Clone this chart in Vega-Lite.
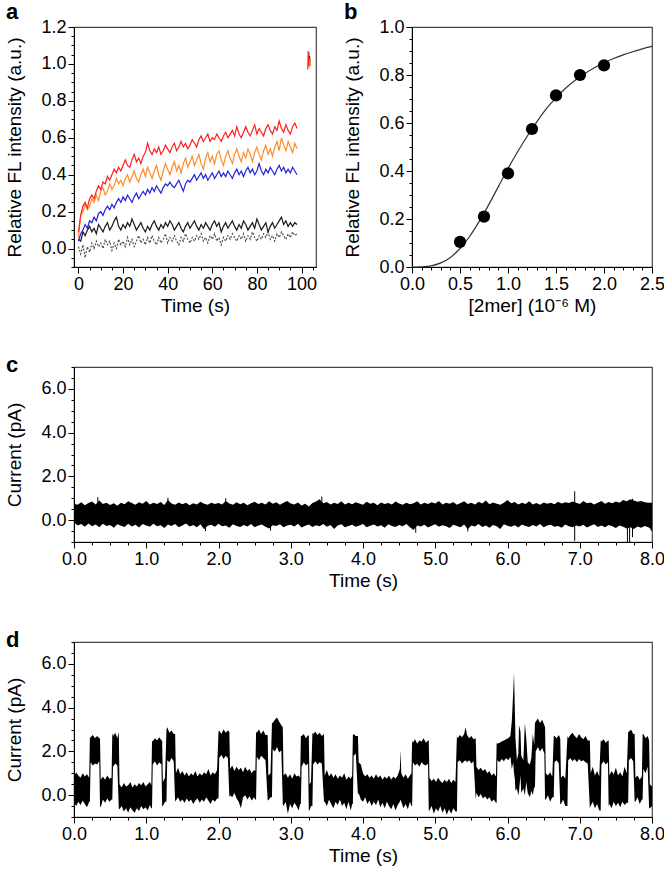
{
"$schema": "https://vega.github.io/schema/vega-lite/v6.json",
"padding": {"left": 5, "right": 5, "top": 0, "bottom": 5},
"config": {
  "font": "Liberation Sans",
  "view": {"stroke": "#444", "strokeWidth": 1.2},
  "axis": {"labelFont": "Liberation Sans", "labelFontSize": 18, "titleFont": "Liberation Sans", "titleFontSize": 19, "titleFontWeight": "normal", "labelColor": "#000", "titleColor": "#000", "domainColor": "#000", "tickColor": "#000", "grid": false, "labelPadding": 2, "tickWidth": 1, "domainWidth": 1, "labelOverlap": false, "labelFlush": false},
  "axisX": {"titlePadding": 3},
  "axisY": {"titlePadding": 16},
  "title": {"fontSize": 22, "fontWeight": "bold", "anchor": "start", "frame": "bounds", "offset": -6, "color": "#000"}
},
"datasets": {
"red": [{"t":0,"v":0.09},{"t":1,"v":0.18},{"t":2,"v":0.23},{"t":3,"v":0.25},{"t":4,"v":0.22},{"t":5,"v":0.27},{"t":6,"v":0.29},{"t":7,"v":0.27},{"t":8,"v":0.31},{"t":9,"v":0.34},{"t":10,"v":0.32},{"t":11,"v":0.36},{"t":12,"v":0.35},{"t":13,"v":0.39},{"t":14,"v":0.37},{"t":15,"v":0.4},{"t":16,"v":0.43},{"t":17,"v":0.41},{"t":18,"v":0.44},{"t":19,"v":0.42},{"t":20,"v":0.45},{"t":21,"v":0.48},{"t":22,"v":0.45},{"t":23,"v":0.44},{"t":24,"v":0.48},{"t":25,"v":0.51},{"t":26,"v":0.47},{"t":27,"v":0.49},{"t":28,"v":0.46},{"t":29,"v":0.5},{"t":30,"v":0.52},{"t":31,"v":0.57},{"t":32,"v":0.53},{"t":33,"v":0.51},{"t":34,"v":0.54},{"t":35,"v":0.52},{"t":36,"v":0.55},{"t":37,"v":0.51},{"t":38,"v":0.53},{"t":39,"v":0.56},{"t":40,"v":0.54},{"t":41,"v":0.52},{"t":42,"v":0.55},{"t":43,"v":0.57},{"t":44,"v":0.53},{"t":45,"v":0.55},{"t":46,"v":0.58},{"t":47,"v":0.55},{"t":48,"v":0.57},{"t":49,"v":0.54},{"t":50,"v":0.56},{"t":51,"v":0.59},{"t":52,"v":0.57},{"t":53,"v":0.55},{"t":54,"v":0.59},{"t":55,"v":0.61},{"t":56,"v":0.58},{"t":57,"v":0.6},{"t":58,"v":0.62},{"t":59,"v":0.58},{"t":60,"v":0.6},{"t":61,"v":0.59},{"t":62,"v":0.62},{"t":63,"v":0.6},{"t":64,"v":0.58},{"t":65,"v":0.61},{"t":66,"v":0.63},{"t":67,"v":0.6},{"t":68,"v":0.62},{"t":69,"v":0.64},{"t":70,"v":0.61},{"t":71,"v":0.66},{"t":72,"v":0.62},{"t":73,"v":0.6},{"t":74,"v":0.63},{"t":75,"v":0.66},{"t":76,"v":0.63},{"t":77,"v":0.61},{"t":78,"v":0.64},{"t":79,"v":0.67},{"t":80,"v":0.62},{"t":81,"v":0.65},{"t":82,"v":0.63},{"t":83,"v":0.61},{"t":84,"v":0.65},{"t":85,"v":0.67},{"t":86,"v":0.64},{"t":87,"v":0.62},{"t":88,"v":0.66},{"t":89,"v":0.64},{"t":90,"v":0.69},{"t":91,"v":0.65},{"t":92,"v":0.63},{"t":93,"v":0.67},{"t":94,"v":0.64},{"t":95,"v":0.62},{"t":96,"v":0.66},{"t":97,"v":0.68},{"t":98,"v":0.65},{"t":102.8,"v":0.97,"g":1},{"t":103.0,"v":1.07,"g":1},{"t":103.2,"v":0.99,"g":1}],
"orange": [{"t":0,"v":0.06},{"t":1,"v":0.18},{"t":2,"v":0.2},{"t":3,"v":0.24},{"t":4,"v":0.21},{"t":5,"v":0.23},{"t":6,"v":0.27},{"t":7,"v":0.25},{"t":8,"v":0.29},{"t":9,"v":0.26},{"t":10,"v":0.31},{"t":11,"v":0.33},{"t":12,"v":0.29},{"t":13,"v":0.31},{"t":14,"v":0.35},{"t":15,"v":0.32},{"t":16,"v":0.34},{"t":17,"v":0.38},{"t":18,"v":0.35},{"t":19,"v":0.37},{"t":20,"v":0.34},{"t":21,"v":0.38},{"t":22,"v":0.4},{"t":23,"v":0.36},{"t":24,"v":0.39},{"t":25,"v":0.42},{"t":26,"v":0.38},{"t":27,"v":0.36},{"t":28,"v":0.4},{"t":29,"v":0.43},{"t":30,"v":0.39},{"t":31,"v":0.44},{"t":32,"v":0.41},{"t":33,"v":0.38},{"t":34,"v":0.42},{"t":35,"v":0.45},{"t":36,"v":0.4},{"t":37,"v":0.37},{"t":38,"v":0.42},{"t":39,"v":0.46},{"t":40,"v":0.43},{"t":41,"v":0.4},{"t":42,"v":0.44},{"t":43,"v":0.47},{"t":44,"v":0.42},{"t":45,"v":0.45},{"t":46,"v":0.41},{"t":47,"v":0.46},{"t":48,"v":0.49},{"t":49,"v":0.44},{"t":50,"v":0.47},{"t":51,"v":0.5},{"t":52,"v":0.45},{"t":53,"v":0.48},{"t":54,"v":0.51},{"t":55,"v":0.46},{"t":56,"v":0.43},{"t":57,"v":0.49},{"t":58,"v":0.52},{"t":59,"v":0.47},{"t":60,"v":0.5},{"t":61,"v":0.46},{"t":62,"v":0.51},{"t":63,"v":0.53},{"t":64,"v":0.48},{"t":65,"v":0.45},{"t":66,"v":0.5},{"t":67,"v":0.53},{"t":68,"v":0.49},{"t":69,"v":0.46},{"t":70,"v":0.51},{"t":71,"v":0.54},{"t":72,"v":0.5},{"t":73,"v":0.47},{"t":74,"v":0.52},{"t":75,"v":0.49},{"t":76,"v":0.54},{"t":77,"v":0.51},{"t":78,"v":0.47},{"t":79,"v":0.52},{"t":80,"v":0.55},{"t":81,"v":0.51},{"t":82,"v":0.48},{"t":83,"v":0.53},{"t":84,"v":0.56},{"t":85,"v":0.51},{"t":86,"v":0.54},{"t":87,"v":0.5},{"t":88,"v":0.55},{"t":89,"v":0.58},{"t":90,"v":0.53},{"t":91,"v":0.6},{"t":92,"v":0.56},{"t":93,"v":0.53},{"t":94,"v":0.58},{"t":95,"v":0.55},{"t":96,"v":0.52},{"t":97,"v":0.57},{"t":98,"v":0.54},{"t":103.5,"v":0.98,"g":1},{"t":103.8,"v":1.03,"g":1},{"t":104.1,"v":0.99,"g":1}],
"blue": [{"t":0,"v":0.04},{"t":1,"v":0.08},{"t":2,"v":0.1},{"t":3,"v":0.13},{"t":4,"v":0.11},{"t":5,"v":0.15},{"t":6,"v":0.14},{"t":7,"v":0.17},{"t":8,"v":0.15},{"t":9,"v":0.19},{"t":10,"v":0.2},{"t":11,"v":0.18},{"t":12,"v":0.21},{"t":13,"v":0.23},{"t":14,"v":0.21},{"t":15,"v":0.24},{"t":16,"v":0.22},{"t":17,"v":0.25},{"t":18,"v":0.27},{"t":19,"v":0.25},{"t":20,"v":0.28},{"t":21,"v":0.26},{"t":22,"v":0.29},{"t":23,"v":0.27},{"t":24,"v":0.25},{"t":25,"v":0.28},{"t":26,"v":0.3},{"t":27,"v":0.27},{"t":28,"v":0.29},{"t":29,"v":0.31},{"t":30,"v":0.29},{"t":31,"v":0.32},{"t":32,"v":0.3},{"t":33,"v":0.33},{"t":34,"v":0.31},{"t":35,"v":0.34},{"t":36,"v":0.32},{"t":37,"v":0.3},{"t":38,"v":0.33},{"t":39,"v":0.35},{"t":40,"v":0.34},{"t":41,"v":0.36},{"t":42,"v":0.34},{"t":43,"v":0.33},{"t":44,"v":0.35},{"t":45,"v":0.37},{"t":46,"v":0.34},{"t":47,"v":0.31},{"t":48,"v":0.35},{"t":49,"v":0.37},{"t":50,"v":0.36},{"t":51,"v":0.38},{"t":52,"v":0.4},{"t":53,"v":0.37},{"t":54,"v":0.39},{"t":55,"v":0.41},{"t":56,"v":0.38},{"t":57,"v":0.4},{"t":58,"v":0.37},{"t":59,"v":0.39},{"t":60,"v":0.41},{"t":61,"v":0.38},{"t":62,"v":0.4},{"t":63,"v":0.42},{"t":64,"v":0.39},{"t":65,"v":0.41},{"t":66,"v":0.39},{"t":67,"v":0.42},{"t":68,"v":0.4},{"t":69,"v":0.38},{"t":70,"v":0.41},{"t":71,"v":0.43},{"t":72,"v":0.4},{"t":73,"v":0.42},{"t":74,"v":0.39},{"t":75,"v":0.42},{"t":76,"v":0.44},{"t":77,"v":0.41},{"t":78,"v":0.43},{"t":79,"v":0.4},{"t":80,"v":0.42},{"t":81,"v":0.46},{"t":82,"v":0.42},{"t":83,"v":0.4},{"t":84,"v":0.43},{"t":85,"v":0.41},{"t":86,"v":0.44},{"t":87,"v":0.42},{"t":88,"v":0.4},{"t":89,"v":0.43},{"t":90,"v":0.45},{"t":91,"v":0.42},{"t":92,"v":0.44},{"t":93,"v":0.41},{"t":94,"v":0.43},{"t":95,"v":0.41},{"t":96,"v":0.44},{"t":97,"v":0.42},{"t":98,"v":0.4},{"t":103.3,"v":1.0,"g":1},{"t":103.6,"v":1.045,"g":1},{"t":103.9,"v":1.01,"g":1}],
"black": [{"t":0,"v":0.05},{"t":1,"v":0.04},{"t":2,"v":0.09},{"t":3,"v":0.07},{"t":4,"v":0.1},{"t":5,"v":0.12},{"t":6,"v":0.09},{"t":7,"v":0.11},{"t":8,"v":0.08},{"t":9,"v":0.13},{"t":10,"v":0.11},{"t":11,"v":0.09},{"t":12,"v":0.12},{"t":13,"v":0.14},{"t":14,"v":0.1},{"t":15,"v":0.12},{"t":16,"v":0.15},{"t":17,"v":0.17},{"t":18,"v":0.12},{"t":19,"v":0.1},{"t":20,"v":0.13},{"t":21,"v":0.11},{"t":22,"v":0.14},{"t":23,"v":0.12},{"t":24,"v":0.16},{"t":25,"v":0.13},{"t":26,"v":0.1},{"t":27,"v":0.12},{"t":28,"v":0.14},{"t":29,"v":0.11},{"t":30,"v":0.09},{"t":31,"v":0.12},{"t":32,"v":0.1},{"t":33,"v":0.13},{"t":34,"v":0.15},{"t":35,"v":0.12},{"t":36,"v":0.1},{"t":37,"v":0.13},{"t":38,"v":0.11},{"t":39,"v":0.14},{"t":40,"v":0.12},{"t":41,"v":0.15},{"t":42,"v":0.13},{"t":43,"v":0.1},{"t":44,"v":0.12},{"t":45,"v":0.14},{"t":46,"v":0.11},{"t":47,"v":0.09},{"t":48,"v":0.12},{"t":49,"v":0.14},{"t":50,"v":0.11},{"t":51,"v":0.13},{"t":52,"v":0.15},{"t":53,"v":0.12},{"t":54,"v":0.1},{"t":55,"v":0.13},{"t":56,"v":0.11},{"t":57,"v":0.14},{"t":58,"v":0.12},{"t":59,"v":0.1},{"t":60,"v":0.13},{"t":61,"v":0.15},{"t":62,"v":0.12},{"t":63,"v":0.14},{"t":64,"v":0.09},{"t":65,"v":0.12},{"t":66,"v":0.14},{"t":67,"v":0.11},{"t":68,"v":0.13},{"t":69,"v":0.15},{"t":70,"v":0.12},{"t":71,"v":0.1},{"t":72,"v":0.13},{"t":73,"v":0.11},{"t":74,"v":0.15},{"t":75,"v":0.13},{"t":76,"v":0.1},{"t":77,"v":0.12},{"t":78,"v":0.14},{"t":79,"v":0.11},{"t":80,"v":0.16},{"t":81,"v":0.13},{"t":82,"v":0.1},{"t":83,"v":0.12},{"t":84,"v":0.14},{"t":85,"v":0.09},{"t":86,"v":0.12},{"t":87,"v":0.14},{"t":88,"v":0.11},{"t":89,"v":0.13},{"t":90,"v":0.15},{"t":91,"v":0.17},{"t":92,"v":0.13},{"t":93,"v":0.15},{"t":94,"v":0.12},{"t":95,"v":0.14},{"t":96,"v":0.12},{"t":97,"v":0.14},{"t":98,"v":0.13},{"t":103.0,"v":1.0,"g":1},{"t":104.2,"v":1.0,"g":1}],
"gray": [{"t":0,"v":0.01},{"t":1,"v":-0.03},{"t":2,"v":0.02},{"t":3,"v":-0.05},{"t":4,"v":0.01},{"t":5,"v":-0.02},{"t":6,"v":0.03},{"t":7,"v":0.0},{"t":8,"v":0.04},{"t":9,"v":0.01},{"t":10,"v":0.03},{"t":11,"v":0.0},{"t":12,"v":0.05},{"t":13,"v":0.02},{"t":14,"v":0.04},{"t":15,"v":-0.01},{"t":16,"v":0.03},{"t":17,"v":0.0},{"t":18,"v":0.05},{"t":19,"v":0.02},{"t":20,"v":0.04},{"t":21,"v":0.01},{"t":22,"v":0.06},{"t":23,"v":0.02},{"t":24,"v":0.05},{"t":25,"v":0.01},{"t":26,"v":0.04},{"t":27,"v":0.07},{"t":28,"v":0.03},{"t":29,"v":0.05},{"t":30,"v":0.02},{"t":31,"v":0.06},{"t":32,"v":0.03},{"t":33,"v":0.07},{"t":34,"v":0.04},{"t":35,"v":0.02},{"t":36,"v":0.06},{"t":37,"v":0.03},{"t":38,"v":0.05},{"t":39,"v":0.08},{"t":40,"v":0.03},{"t":41,"v":0.06},{"t":42,"v":0.04},{"t":43,"v":0.07},{"t":44,"v":0.04},{"t":45,"v":0.02},{"t":46,"v":0.06},{"t":47,"v":0.04},{"t":48,"v":0.08},{"t":49,"v":0.05},{"t":50,"v":0.03},{"t":51,"v":0.06},{"t":52,"v":0.04},{"t":53,"v":0.07},{"t":54,"v":0.05},{"t":55,"v":0.08},{"t":56,"v":0.04},{"t":57,"v":0.06},{"t":58,"v":0.03},{"t":59,"v":0.07},{"t":60,"v":0.05},{"t":61,"v":0.08},{"t":62,"v":0.04},{"t":63,"v":0.06},{"t":64,"v":0.02},{"t":65,"v":0.06},{"t":66,"v":0.04},{"t":67,"v":0.07},{"t":68,"v":0.05},{"t":69,"v":0.08},{"t":70,"v":0.06},{"t":71,"v":0.04},{"t":72,"v":0.07},{"t":73,"v":0.05},{"t":74,"v":0.08},{"t":75,"v":0.04},{"t":76,"v":0.07},{"t":77,"v":0.05},{"t":78,"v":0.09},{"t":79,"v":0.06},{"t":80,"v":0.04},{"t":81,"v":0.07},{"t":82,"v":0.05},{"t":83,"v":0.08},{"t":84,"v":0.06},{"t":85,"v":0.09},{"t":86,"v":0.05},{"t":87,"v":0.07},{"t":88,"v":0.04},{"t":89,"v":0.08},{"t":90,"v":0.06},{"t":91,"v":0.09},{"t":92,"v":0.07},{"t":93,"v":0.05},{"t":94,"v":0.08},{"t":95,"v":0.06},{"t":96,"v":0.09},{"t":97,"v":0.07},{"t":98,"v":0.08},{"t":103.4,"v":1.06,"g":1},{"t":103.7,"v":0.99,"g":1},{"t":104.0,"v":1.03,"g":1}],
"fit": [{"x":0,"y":0},{"x":0.1,"y":0.001},{"x":0.2,"y":0.005},{"x":0.3,"y":0.017},{"x":0.4,"y":0.04},{"x":0.5,"y":0.077},{"x":0.6,"y":0.127},{"x":0.7,"y":0.19},{"x":0.8,"y":0.26},{"x":0.9,"y":0.335},{"x":1.0,"y":0.41},{"x":1.1,"y":0.48},{"x":1.2,"y":0.545},{"x":1.3,"y":0.605},{"x":1.4,"y":0.66},{"x":1.5,"y":0.705},{"x":1.6,"y":0.745},{"x":1.7,"y":0.778},{"x":1.8,"y":0.806},{"x":1.9,"y":0.83},{"x":2.0,"y":0.851},{"x":2.1,"y":0.869},{"x":2.2,"y":0.884},{"x":2.3,"y":0.897},{"x":2.4,"y":0.909},{"x":2.5,"y":0.919}],
"pts": [{"x":0.5,"y":0.105},{"x":0.75,"y":0.21},{"x":1.0,"y":0.39},{"x":1.25,"y":0.575},{"x":1.5,"y":0.715},{"x":1.75,"y":0.8},{"x":2.0,"y":0.84}],
"cband": [{"t":0,"lo":-0.1,"hi":0.75},{"t":0.05,"lo":-0.25,"hi":0.7},{"t":0.1,"lo":-0.18,"hi":0.82},{"t":0.15,"lo":-0.3,"hi":0.68},{"t":0.2,"lo":-0.15,"hi":0.78},{"t":0.25,"lo":-0.28,"hi":0.85},{"t":0.3,"lo":-0.2,"hi":0.72},{"t":0.35,"lo":-0.33,"hi":0.9},{"t":0.4,"lo":-0.16,"hi":0.74},{"t":0.45,"lo":-0.27,"hi":0.8},{"t":0.5,"lo":-0.22,"hi":0.69},{"t":0.55,"lo":-0.35,"hi":0.77},{"t":0.6,"lo":-0.19,"hi":0.66},{"t":0.65,"lo":-0.26,"hi":0.79},{"t":0.7,"lo":-0.31,"hi":0.73},{"t":0.75,"lo":-0.17,"hi":0.86},{"t":0.8,"lo":-0.29,"hi":0.78},{"t":0.85,"lo":-0.21,"hi":0.7},{"t":0.9,"lo":-0.34,"hi":0.82},{"t":0.95,"lo":-0.18,"hi":0.75},{"t":1.0,"lo":-0.25,"hi":0.88},{"t":1.05,"lo":-0.3,"hi":0.71},{"t":1.1,"lo":-0.16,"hi":0.8},{"t":1.15,"lo":-0.28,"hi":0.74},{"t":1.2,"lo":-0.23,"hi":0.83},{"t":1.25,"lo":-0.36,"hi":0.69},{"t":1.3,"lo":-0.2,"hi":0.92},{"t":1.35,"lo":-0.27,"hi":0.76},{"t":1.4,"lo":-0.18,"hi":0.7},{"t":1.45,"lo":-0.32,"hi":0.81},{"t":1.5,"lo":-0.24,"hi":0.73},{"t":1.55,"lo":-0.15,"hi":0.79},{"t":1.6,"lo":-0.29,"hi":0.68},{"t":1.65,"lo":-0.22,"hi":0.77},{"t":1.7,"lo":-0.33,"hi":0.72},{"t":1.75,"lo":-0.19,"hi":0.84},{"t":1.8,"lo":-0.42,"hi":0.75},{"t":1.85,"lo":-0.26,"hi":0.7},{"t":1.9,"lo":-0.21,"hi":0.8},{"t":1.95,"lo":-0.3,"hi":0.74},{"t":2.0,"lo":-0.17,"hi":0.78},{"t":2.05,"lo":-0.28,"hi":0.72},{"t":2.1,"lo":-0.24,"hi":0.87},{"t":2.15,"lo":-0.35,"hi":0.76},{"t":2.2,"lo":-0.19,"hi":0.7},{"t":2.25,"lo":-0.27,"hi":0.82},{"t":2.3,"lo":-0.31,"hi":0.73},{"t":2.35,"lo":-0.22,"hi":0.79},{"t":2.4,"lo":-0.29,"hi":0.68},{"t":2.45,"lo":-0.18,"hi":0.77},{"t":2.5,"lo":-0.33,"hi":0.84},{"t":2.55,"lo":-0.25,"hi":0.74},{"t":2.6,"lo":-0.2,"hi":0.8},{"t":2.65,"lo":-0.3,"hi":0.71},{"t":2.7,"lo":-0.38,"hi":0.86},{"t":2.75,"lo":-0.23,"hi":0.75},{"t":2.8,"lo":-0.27,"hi":0.82},{"t":2.85,"lo":-0.19,"hi":0.7},{"t":2.9,"lo":-0.32,"hi":0.79},{"t":2.95,"lo":-0.24,"hi":0.88},{"t":3.0,"lo":-0.21,"hi":0.76},{"t":3.05,"lo":-0.29,"hi":0.72},{"t":3.1,"lo":-0.17,"hi":0.81},{"t":3.15,"lo":-0.34,"hi":0.67},{"t":3.2,"lo":-0.26,"hi":0.75},{"t":3.25,"lo":-0.2,"hi":0.62},{"t":3.3,"lo":-0.31,"hi":0.78},{"t":3.35,"lo":-0.23,"hi":0.85},{"t":3.4,"lo":-0.28,"hi":0.95},{"t":3.45,"lo":-0.18,"hi":0.77},{"t":3.5,"lo":-0.3,"hi":0.83},{"t":3.55,"lo":-0.22,"hi":0.72},{"t":3.6,"lo":-0.4,"hi":0.8},{"t":3.65,"lo":-0.25,"hi":0.74},{"t":3.7,"lo":-0.19,"hi":0.86},{"t":3.75,"lo":-0.33,"hi":0.71},{"t":3.8,"lo":-0.27,"hi":0.79},{"t":3.85,"lo":-0.21,"hi":0.73},{"t":3.9,"lo":-0.3,"hi":0.82},{"t":3.95,"lo":-0.24,"hi":0.76},{"t":4.0,"lo":-0.18,"hi":0.7},{"t":4.05,"lo":-0.32,"hi":0.84},{"t":4.1,"lo":-0.26,"hi":0.75},{"t":4.15,"lo":-0.2,"hi":0.79},{"t":4.2,"lo":-0.29,"hi":0.68},{"t":4.25,"lo":-0.23,"hi":0.81},{"t":4.3,"lo":-0.35,"hi":0.74},{"t":4.35,"lo":-0.19,"hi":0.78},{"t":4.4,"lo":-0.27,"hi":0.72},{"t":4.45,"lo":-0.31,"hi":0.85},{"t":4.5,"lo":-0.22,"hi":0.76},{"t":4.55,"lo":-0.28,"hi":0.7},{"t":4.6,"lo":-0.18,"hi":0.8},{"t":4.65,"lo":-0.33,"hi":0.73},{"t":4.7,"lo":-0.45,"hi":0.77},{"t":4.75,"lo":-0.24,"hi":0.86},{"t":4.8,"lo":-0.29,"hi":0.71},{"t":4.85,"lo":-0.21,"hi":0.79},{"t":4.9,"lo":-0.34,"hi":0.74},{"t":4.95,"lo":-0.26,"hi":0.82},{"t":5.0,"lo":-0.19,"hi":0.76},{"t":5.05,"lo":-0.3,"hi":0.88},{"t":5.1,"lo":-0.23,"hi":0.72},{"t":5.15,"lo":-0.28,"hi":0.8},{"t":5.2,"lo":-0.36,"hi":0.75},{"t":5.25,"lo":-0.21,"hi":0.83},{"t":5.3,"lo":-0.27,"hi":0.7},{"t":5.35,"lo":-0.32,"hi":0.78},{"t":5.4,"lo":-0.2,"hi":0.86},{"t":5.45,"lo":-0.42,"hi":0.74},{"t":5.5,"lo":-0.25,"hi":0.79},{"t":5.55,"lo":-0.29,"hi":0.72},{"t":5.6,"lo":-0.18,"hi":0.84},{"t":5.65,"lo":-0.31,"hi":0.76},{"t":5.7,"lo":-0.24,"hi":0.9},{"t":5.75,"lo":-0.35,"hi":0.73},{"t":5.8,"lo":-0.22,"hi":0.81},{"t":5.85,"lo":-0.28,"hi":0.75},{"t":5.9,"lo":-0.4,"hi":0.7},{"t":5.95,"lo":-0.19,"hi":0.79},{"t":6.0,"lo":-0.26,"hi":0.92},{"t":6.05,"lo":-0.3,"hi":0.77},{"t":6.1,"lo":-0.23,"hi":0.83},{"t":6.15,"lo":-0.34,"hi":0.71},{"t":6.2,"lo":-0.2,"hi":0.8},{"t":6.25,"lo":-0.27,"hi":0.74},{"t":6.3,"lo":-0.31,"hi":0.86},{"t":6.35,"lo":-0.22,"hi":0.72},{"t":6.4,"lo":-0.29,"hi":0.78},{"t":6.45,"lo":-0.18,"hi":0.7},{"t":6.5,"lo":-0.33,"hi":0.81},{"t":6.55,"lo":-0.25,"hi":0.75},{"t":6.6,"lo":-0.21,"hi":0.79},{"t":6.65,"lo":-0.3,"hi":0.73},{"t":6.7,"lo":-0.27,"hi":0.84},{"t":6.75,"lo":-0.35,"hi":0.76},{"t":6.8,"lo":-0.2,"hi":0.82},{"t":6.85,"lo":-0.28,"hi":0.78},{"t":6.9,"lo":-0.32,"hi":0.85},{"t":6.95,"lo":-0.24,"hi":0.8},{"t":7.0,"lo":-0.29,"hi":0.74},{"t":7.05,"lo":-0.21,"hi":0.87},{"t":7.1,"lo":-0.34,"hi":0.77},{"t":7.15,"lo":-0.26,"hi":0.81},{"t":7.2,"lo":-0.19,"hi":0.72},{"t":7.25,"lo":-0.31,"hi":0.79},{"t":7.3,"lo":-0.25,"hi":0.88},{"t":7.35,"lo":-0.33,"hi":0.75},{"t":7.4,"lo":-0.22,"hi":0.83},{"t":7.45,"lo":-0.28,"hi":0.77},{"t":7.5,"lo":-0.36,"hi":0.85},{"t":7.55,"lo":-0.24,"hi":0.8},{"t":7.6,"lo":-0.3,"hi":0.92},{"t":7.65,"lo":-0.38,"hi":0.86},{"t":7.7,"lo":-0.33,"hi":0.95},{"t":7.75,"lo":-0.4,"hi":0.9},{"t":7.8,"lo":-0.29,"hi":0.84},{"t":7.85,"lo":-0.35,"hi":0.88},{"t":7.9,"lo":-0.27,"hi":0.82},{"t":7.95,"lo":-0.32,"hi":0.79},{"t":8.0,"lo":-0.45,"hi":0.8}],
"cspike": [{"t":0.33,"lo":0,"hi":1.05},{"t":1.3,"lo":0,"hi":1.02},{"t":1.82,"lo":-0.5,"hi":0.3},{"t":2.1,"lo":0,"hi":1.0},{"t":2.72,"lo":-0.48,"hi":0.3},{"t":3.43,"lo":0,"hi":1.08},{"t":4.73,"lo":-0.58,"hi":0.3},{"t":5.45,"lo":-0.52,"hi":0.3},{"t":6.93,"lo":-0.95,"hi":1.32},{"t":7.66,"lo":-1.0,"hi":0.5},{"t":7.69,"lo":-1.0,"hi":0.5},{"t":7.73,"lo":-0.78,"hi":0.98},{"t":7.99,"lo":-0.5,"hi":0.5}],
"dband": [{"t":0,"lo":-0.35,"hi":0.85},{"t":0.03,"lo":-0.5,"hi":1.05},{"t":0.06,"lo":-0.3,"hi":0.9},{"t":0.09,"lo":-0.45,"hi":0.8},{"t":0.12,"lo":-0.25,"hi":1.0},{"t":0.15,"lo":-0.4,"hi":0.85},{"t":0.18,"lo":-0.55,"hi":0.95},{"t":0.21,"lo":-0.3,"hi":0.8},{"t":0.22,"lo":-0.3,"hi":2.6},{"t":0.23,"lo":1.5,"hi":2.65},{"t":0.26,"lo":1.35,"hi":2.75},{"t":0.29,"lo":1.45,"hi":2.6},{"t":0.32,"lo":1.4,"hi":2.7},{"t":0.35,"lo":1.55,"hi":2.6},{"t":0.36,"lo":-0.5,"hi":2.6},{"t":0.37,"lo":-0.55,"hi":0.7},{"t":0.4,"lo":-0.2,"hi":0.85},{"t":0.43,"lo":-0.35,"hi":0.7},{"t":0.46,"lo":-0.15,"hi":0.9},{"t":0.49,"lo":-0.3,"hi":0.75},{"t":0.52,"lo":-0.2,"hi":0.8},{"t":0.53,"lo":-0.2,"hi":2.85},{"t":0.54,"lo":1.3,"hi":2.7},{"t":0.57,"lo":1.45,"hi":2.85},{"t":0.6,"lo":1.35,"hi":2.6},{"t":0.62,"lo":-0.6,"hi":2.9},{"t":0.63,"lo":-0.65,"hi":0.5},{"t":0.66,"lo":-0.5,"hi":0.35},{"t":0.69,"lo":-0.75,"hi":0.55},{"t":0.72,"lo":-0.6,"hi":0.4},{"t":0.75,"lo":-0.8,"hi":0.45},{"t":0.78,"lo":-0.55,"hi":0.6},{"t":0.81,"lo":-0.7,"hi":0.35},{"t":0.84,"lo":-0.8,"hi":0.5},{"t":0.87,"lo":-0.6,"hi":0.4},{"t":0.9,"lo":-0.72,"hi":0.55},{"t":0.93,"lo":-0.5,"hi":0.45},{"t":0.96,"lo":-0.65,"hi":0.6},{"t":0.99,"lo":-0.55,"hi":0.4},{"t":1.02,"lo":-0.7,"hi":0.5},{"t":1.05,"lo":-0.45,"hi":0.6},{"t":1.07,"lo":-0.6,"hi":0.45},{"t":1.08,"lo":-0.6,"hi":2.5},{"t":1.09,"lo":1.4,"hi":2.45},{"t":1.12,"lo":1.55,"hi":2.6},{"t":1.15,"lo":1.35,"hi":2.5},{"t":1.18,"lo":1.5,"hi":2.65},{"t":1.21,"lo":1.4,"hi":2.5},{"t":1.22,"lo":-0.5,"hi":2.5},{"t":1.23,"lo":-0.5,"hi":0.6},{"t":1.26,"lo":-0.3,"hi":0.8},{"t":1.28,"lo":-0.3,"hi":3.0},{"t":1.29,"lo":1.6,"hi":3.1},{"t":1.32,"lo":1.5,"hi":2.85},{"t":1.35,"lo":1.7,"hi":2.95},{"t":1.38,"lo":1.55,"hi":2.8},{"t":1.4,"lo":-0.3,"hi":2.8},{"t":1.41,"lo":-0.25,"hi":1.0},{"t":1.44,"lo":-0.1,"hi":1.25},{"t":1.47,"lo":-0.3,"hi":0.95},{"t":1.5,"lo":-0.2,"hi":1.1},{"t":1.53,"lo":-0.35,"hi":0.9},{"t":1.56,"lo":-0.15,"hi":1.05},{"t":1.59,"lo":-0.3,"hi":0.85},{"t":1.62,"lo":-0.2,"hi":1.0},{"t":1.65,"lo":-0.4,"hi":0.9},{"t":1.68,"lo":-0.25,"hi":1.1},{"t":1.71,"lo":-0.15,"hi":0.85},{"t":1.74,"lo":-0.35,"hi":1.0},{"t":1.77,"lo":-0.2,"hi":0.9},{"t":1.8,"lo":-0.3,"hi":1.05},{"t":1.83,"lo":-0.1,"hi":0.95},{"t":1.86,"lo":-0.25,"hi":1.2},{"t":1.89,"lo":-0.4,"hi":0.9},{"t":1.92,"lo":-0.2,"hi":1.05},{"t":1.95,"lo":-0.3,"hi":0.95},{"t":1.98,"lo":-0.15,"hi":1.15},{"t":2.0,"lo":-0.15,"hi":2.9},{"t":2.01,"lo":1.7,"hi":2.95},{"t":2.04,"lo":1.85,"hi":2.8},{"t":2.07,"lo":1.65,"hi":3.0},{"t":2.1,"lo":1.8,"hi":2.85},{"t":2.13,"lo":1.7,"hi":2.95},{"t":2.15,"lo":-0.1,"hi":2.9},{"t":2.16,"lo":0.0,"hi":1.2},{"t":2.19,"lo":-0.1,"hi":1.35},{"t":2.22,"lo":0.1,"hi":1.1},{"t":2.25,"lo":-0.15,"hi":1.3},{"t":2.28,"lo":-0.3,"hi":1.15},{"t":2.31,"lo":-0.6,"hi":1.25},{"t":2.34,"lo":-0.1,"hi":1.05},{"t":2.37,"lo":0.0,"hi":1.3},{"t":2.4,"lo":-0.2,"hi":1.1},{"t":2.43,"lo":-0.05,"hi":1.2},{"t":2.46,"lo":-0.25,"hi":1.0},{"t":2.49,"lo":-0.1,"hi":1.15},{"t":2.51,"lo":-0.2,"hi":1.1},{"t":2.52,"lo":-0.2,"hi":2.9},{"t":2.53,"lo":1.75,"hi":2.85},{"t":2.56,"lo":1.6,"hi":3.0},{"t":2.59,"lo":1.8,"hi":2.8},{"t":2.62,"lo":1.7,"hi":2.95},{"t":2.65,"lo":1.6,"hi":2.75},{"t":2.68,"lo":-0.2,"hi":2.75},{"t":2.69,"lo":-0.25,"hi":0.9},{"t":2.72,"lo":-0.1,"hi":1.0},{"t":2.74,"lo":-0.1,"hi":3.3},{"t":2.75,"lo":2.1,"hi":3.3},{"t":2.78,"lo":2.0,"hi":3.45},{"t":2.81,"lo":2.2,"hi":3.55},{"t":2.84,"lo":1.95,"hi":3.35},{"t":2.87,"lo":2.05,"hi":3.2},{"t":2.89,"lo":-0.4,"hi":3.1},{"t":2.9,"lo":-0.5,"hi":0.9},{"t":2.93,"lo":-0.3,"hi":1.0},{"t":2.96,"lo":-0.85,"hi":0.8},{"t":2.99,"lo":-0.4,"hi":0.95},{"t":3.02,"lo":-0.6,"hi":0.75},{"t":3.05,"lo":-0.35,"hi":1.0},{"t":3.08,"lo":-0.5,"hi":0.85},{"t":3.11,"lo":-0.7,"hi":0.9},{"t":3.13,"lo":-0.4,"hi":0.8},{"t":3.14,"lo":-0.4,"hi":2.7},{"t":3.15,"lo":1.3,"hi":2.7},{"t":3.18,"lo":1.5,"hi":2.8},{"t":3.21,"lo":1.35,"hi":2.6},{"t":3.24,"lo":1.45,"hi":2.75},{"t":3.25,"lo":-0.7,"hi":2.7},{"t":3.26,"lo":-0.7,"hi":0.5},{"t":3.28,"lo":-0.5,"hi":0.6},{"t":3.3,"lo":-0.5,"hi":2.85},{"t":3.31,"lo":1.4,"hi":2.8},{"t":3.34,"lo":1.55,"hi":2.9},{"t":3.37,"lo":1.4,"hi":2.75},{"t":3.4,"lo":1.5,"hi":2.85},{"t":3.43,"lo":1.45,"hi":2.7},{"t":3.46,"lo":-0.3,"hi":2.8},{"t":3.47,"lo":-0.3,"hi":0.9},{"t":3.5,"lo":-0.5,"hi":1.15},{"t":3.53,"lo":-0.2,"hi":0.85},{"t":3.56,"lo":-0.4,"hi":1.0},{"t":3.59,"lo":-0.6,"hi":0.8},{"t":3.62,"lo":-0.3,"hi":0.95},{"t":3.65,"lo":-0.45,"hi":0.75},{"t":3.68,"lo":-0.2,"hi":0.9},{"t":3.71,"lo":-0.5,"hi":0.8},{"t":3.74,"lo":-0.35,"hi":1.0},{"t":3.77,"lo":-0.65,"hi":0.7},{"t":3.8,"lo":-0.3,"hi":0.85},{"t":3.83,"lo":-0.7,"hi":0.75},{"t":3.85,"lo":-0.4,"hi":0.9},{"t":3.86,"lo":-0.4,"hi":2.75},{"t":3.87,"lo":1.8,"hi":2.8},{"t":3.9,"lo":1.9,"hi":2.7},{"t":3.93,"lo":0.0,"hi":2.7},{"t":3.94,"lo":0.1,"hi":1.5},{"t":3.97,"lo":-0.2,"hi":1.4},{"t":4.0,"lo":-0.3,"hi":1.0},{"t":4.03,"lo":-0.1,"hi":0.85},{"t":4.06,"lo":-0.4,"hi":0.95},{"t":4.09,"lo":-0.25,"hi":0.8},{"t":4.12,"lo":-0.5,"hi":0.9},{"t":4.15,"lo":-0.3,"hi":0.75},{"t":4.18,"lo":-0.45,"hi":0.95},{"t":4.21,"lo":-0.2,"hi":0.8},{"t":4.24,"lo":-0.55,"hi":0.9},{"t":4.27,"lo":-0.35,"hi":0.7},{"t":4.3,"lo":-0.6,"hi":0.85},{"t":4.33,"lo":-0.3,"hi":0.75},{"t":4.36,"lo":-0.5,"hi":0.9},{"t":4.39,"lo":-0.65,"hi":0.7},{"t":4.42,"lo":-0.4,"hi":0.85},{"t":4.45,"lo":-0.7,"hi":0.75},{"t":4.48,"lo":-0.45,"hi":0.9},{"t":4.51,"lo":-0.3,"hi":1.2},{"t":4.52,"lo":-0.2,"hi":2.05},{"t":4.53,"lo":-0.3,"hi":1.0},{"t":4.56,"lo":-0.6,"hi":0.8},{"t":4.59,"lo":-0.4,"hi":0.95},{"t":4.62,"lo":-0.65,"hi":0.75},{"t":4.65,"lo":-0.3,"hi":0.9},{"t":4.67,"lo":-0.5,"hi":1.0},{"t":4.68,"lo":-0.5,"hi":2.5},{"t":4.69,"lo":1.5,"hi":2.4},{"t":4.72,"lo":1.35,"hi":2.55},{"t":4.75,"lo":1.45,"hi":2.35},{"t":4.78,"lo":1.3,"hi":2.5},{"t":4.81,"lo":1.5,"hi":2.45},{"t":4.84,"lo":1.4,"hi":2.6},{"t":4.87,"lo":1.35,"hi":2.4},{"t":4.9,"lo":1.45,"hi":2.5},{"t":4.91,"lo":-0.7,"hi":2.5},{"t":4.92,"lo":-0.7,"hi":0.8},{"t":4.95,"lo":-0.5,"hi":0.65},{"t":4.98,"lo":-0.85,"hi":0.75},{"t":5.01,"lo":-0.6,"hi":0.6},{"t":5.04,"lo":-0.75,"hi":0.8},{"t":5.07,"lo":-0.5,"hi":0.65},{"t":5.1,"lo":-0.8,"hi":0.55},{"t":5.13,"lo":-0.6,"hi":0.7},{"t":5.16,"lo":-0.9,"hi":0.6},{"t":5.19,"lo":-0.65,"hi":0.75},{"t":5.22,"lo":-0.85,"hi":0.55},{"t":5.25,"lo":-0.6,"hi":0.7},{"t":5.28,"lo":-0.75,"hi":0.6},{"t":5.3,"lo":-0.75,"hi":2.7},{"t":5.31,"lo":1.5,"hi":2.6},{"t":5.34,"lo":1.6,"hi":2.75},{"t":5.37,"lo":1.45,"hi":2.65},{"t":5.4,"lo":1.55,"hi":2.8},{"t":5.42,"lo":1.6,"hi":3.1},{"t":5.44,"lo":1.5,"hi":2.75},{"t":5.47,"lo":1.6,"hi":2.6},{"t":5.5,"lo":1.45,"hi":2.7},{"t":5.53,"lo":1.55,"hi":2.55},{"t":5.56,"lo":-0.2,"hi":2.6},{"t":5.57,"lo":0.1,"hi":1.3},{"t":5.6,"lo":-0.1,"hi":1.15},{"t":5.63,"lo":0.05,"hi":1.25},{"t":5.66,"lo":-0.15,"hi":1.1},{"t":5.69,"lo":-0.05,"hi":1.2},{"t":5.72,"lo":-0.2,"hi":1.0},{"t":5.75,"lo":-0.1,"hi":1.1},{"t":5.78,"lo":-0.3,"hi":0.9},{"t":5.81,"lo":-0.2,"hi":1.0},{"t":5.84,"lo":-0.35,"hi":0.85},{"t":5.85,"lo":-0.35,"hi":2.4},{"t":5.86,"lo":1.6,"hi":2.35},{"t":5.89,"lo":1.5,"hi":2.4},{"t":5.92,"lo":1.65,"hi":2.45},{"t":5.95,"lo":1.55,"hi":2.5},{"t":5.98,"lo":1.7,"hi":2.55},{"t":6.01,"lo":1.6,"hi":2.6},{"t":6.04,"lo":1.75,"hi":2.7},{"t":6.06,"lo":1.2,"hi":3.4},{"t":6.08,"lo":1.5,"hi":4.8},{"t":6.09,"lo":1.0,"hi":5.6},{"t":6.1,"lo":0.8,"hi":4.2},{"t":6.11,"lo":0.2,"hi":2.6},{"t":6.13,"lo":0.3,"hi":1.6},{"t":6.15,"lo":0.0,"hi":1.9},{"t":6.16,"lo":0.2,"hi":3.2},{"t":6.18,"lo":0.9,"hi":2.9},{"t":6.19,"lo":0.1,"hi":1.8},{"t":6.22,"lo":0.3,"hi":1.6},{"t":6.24,"lo":0.0,"hi":3.3},{"t":6.26,"lo":0.6,"hi":2.6},{"t":6.28,"lo":0.1,"hi":1.5},{"t":6.31,"lo":-0.1,"hi":1.4},{"t":6.33,"lo":0.2,"hi":1.7},{"t":6.35,"lo":0.0,"hi":2.8},{"t":6.37,"lo":0.4,"hi":2.3},{"t":6.38,"lo":0.3,"hi":3.3},{"t":6.39,"lo":2.0,"hi":3.35},{"t":6.42,"lo":2.2,"hi":3.5},{"t":6.45,"lo":2.0,"hi":3.3},{"t":6.48,"lo":2.15,"hi":3.45},{"t":6.51,"lo":1.9,"hi":3.2},{"t":6.52,"lo":-0.2,"hi":3.1},{"t":6.53,"lo":-0.2,"hi":1.0},{"t":6.56,"lo":0.0,"hi":0.9},{"t":6.59,"lo":-0.3,"hi":1.05},{"t":6.62,"lo":-0.1,"hi":0.85},{"t":6.64,"lo":-0.1,"hi":2.7},{"t":6.65,"lo":1.5,"hi":2.7},{"t":6.68,"lo":1.6,"hi":2.6},{"t":6.71,"lo":1.45,"hi":2.75},{"t":6.73,"lo":-0.4,"hi":2.6},{"t":6.74,"lo":-0.4,"hi":0.8},{"t":6.77,"lo":-0.2,"hi":0.9},{"t":6.8,"lo":-0.5,"hi":0.75},{"t":6.83,"lo":-0.5,"hi":2.7},{"t":6.84,"lo":1.6,"hi":2.6},{"t":6.87,"lo":1.7,"hi":2.75},{"t":6.9,"lo":1.55,"hi":2.85},{"t":6.93,"lo":1.65,"hi":2.7},{"t":6.96,"lo":1.5,"hi":2.6},{"t":6.99,"lo":1.65,"hi":2.8},{"t":7.02,"lo":1.55,"hi":2.65},{"t":7.05,"lo":1.6,"hi":2.55},{"t":7.08,"lo":1.5,"hi":2.7},{"t":7.11,"lo":1.45,"hi":2.5},{"t":7.14,"lo":-0.6,"hi":2.5},{"t":7.15,"lo":-0.5,"hi":1.0},{"t":7.18,"lo":-0.3,"hi":1.3},{"t":7.21,"lo":-0.6,"hi":0.9},{"t":7.24,"lo":-0.4,"hi":1.1},{"t":7.27,"lo":-0.7,"hi":0.85},{"t":7.29,"lo":-0.7,"hi":2.5},{"t":7.3,"lo":1.4,"hi":2.45},{"t":7.33,"lo":1.55,"hi":2.55},{"t":7.36,"lo":1.4,"hi":2.4},{"t":7.39,"lo":1.5,"hi":2.5},{"t":7.4,"lo":-0.5,"hi":2.5},{"t":7.41,"lo":-0.4,"hi":0.9},{"t":7.44,"lo":-0.6,"hi":1.1},{"t":7.47,"lo":-0.3,"hi":0.95},{"t":7.5,"lo":-0.5,"hi":1.25},{"t":7.53,"lo":-0.35,"hi":0.9},{"t":7.56,"lo":-0.55,"hi":1.05},{"t":7.59,"lo":-0.3,"hi":0.85},{"t":7.62,"lo":-0.45,"hi":1.3},{"t":7.65,"lo":-0.35,"hi":1.0},{"t":7.67,"lo":-0.35,"hi":2.9},{"t":7.68,"lo":1.6,"hi":2.9},{"t":7.71,"lo":1.7,"hi":3.0},{"t":7.74,"lo":1.55,"hi":2.8},{"t":7.76,"lo":-0.3,"hi":2.8},{"t":7.77,"lo":-0.3,"hi":0.8},{"t":7.8,"lo":-0.1,"hi":0.9},{"t":7.83,"lo":-0.4,"hi":0.7},{"t":7.86,"lo":-0.2,"hi":0.85},{"t":7.87,"lo":-0.2,"hi":2.8},{"t":7.88,"lo":1.2,"hi":2.8},{"t":7.91,"lo":1.0,"hi":2.6},{"t":7.94,"lo":1.3,"hi":2.7},{"t":7.96,"lo":-0.6,"hi":2.5},{"t":7.97,"lo":-0.6,"hi":0.5},{"t":8.0,"lo":-0.5,"hi":0.4}]
},
"vconcat": [
  {
    "hconcat": [
      {
        "title": "a",
        "width": 242, "height": 240,
        "encoding": {
          "x": {"field": "t", "type": "quantitative", "scale": {"domain": [-2, 106.5], "nice": false, "zero": false},
                "axis": {"title": "Time (s)", "values": [0,5,10,15,20,25,30,35,40,45,50,55,60,65,70,75,80,85,90,95,100,105], "format": "d", "labelExpr": "datum.value % 20 === 0 ? datum.label : ''", "tickSize": {"condition": {"test": "datum.value % 20 === 0", "value": 6}, "value": 3}}},
          "y": {"field": "v", "type": "quantitative", "scale": {"domain": [-0.1, 1.2], "nice": false, "zero": false},
                "axis": {"title": "Relative FL intensity (a.u.)", "values": [-0.1,-0.05,0,0.05,0.1,0.15,0.2,0.25,0.3,0.35,0.4,0.45,0.5,0.55,0.6,0.65,0.7,0.75,0.8,0.85,0.9,0.95,1,1.05,1.1,1.15,1.2], "format": ".1f", "labelExpr": "abs(datum.value*5 - round(datum.value*5)) < 0.001 ? datum.label : ''", "tickSize": {"condition": {"test": "abs(datum.value*5 - round(datum.value*5)) < 0.001", "value": 6}, "value": 3}}},
          "detail": {"field": "g"}
        },
        "layer": [
          {"data": {"name": "gray"}, "mark": {"type": "line", "color": "#444", "strokeWidth": 1.1, "strokeDash": [2, 1.5]}},
          {"data": {"name": "black"}, "mark": {"type": "line", "color": "#1a1a1a", "strokeWidth": 1.2}},
          {"data": {"name": "blue"}, "mark": {"type": "line", "color": "#2222dd", "strokeWidth": 1.2}},
          {"data": {"name": "orange"}, "mark": {"type": "line", "color": "#ff8c26", "strokeWidth": 1.2}},
          {"data": {"name": "red"}, "mark": {"type": "line", "color": "#ff1f1f", "strokeWidth": 1.2}}
        ]
      },
      {
        "title": "b",
        "width": 240, "height": 240,
        "encoding": {
          "x": {"field": "x", "type": "quantitative", "scale": {"domain": [0, 2.5], "nice": false},
                "axis": {"title": "[2mer] (10⁻⁶ M)", "values": [0,0.1,0.2,0.3,0.4,0.5,0.6,0.7,0.8,0.9,1,1.1,1.2,1.3,1.4,1.5,1.6,1.7,1.8,1.9,2,2.1,2.2,2.3,2.4,2.5], "format": ".1f", "labelExpr": "abs(datum.value*2 - round(datum.value*2)) < 0.001 ? datum.label : ''", "tickSize": {"condition": {"test": "abs(datum.value*2 - round(datum.value*2)) < 0.001", "value": 6}, "value": 3}}},
          "y": {"field": "y", "type": "quantitative", "scale": {"domain": [0, 1], "nice": false},
                "axis": {"title": "Relative FL intensity (a.u.)", "values": [0,0.05,0.1,0.15,0.2,0.25,0.3,0.35,0.4,0.45,0.5,0.55,0.6,0.65,0.7,0.75,0.8,0.85,0.9,0.95,1], "format": ".1f", "labelExpr": "abs(datum.value*5 - round(datum.value*5)) < 0.001 ? datum.label : ''", "tickSize": {"condition": {"test": "abs(datum.value*5 - round(datum.value*5)) < 0.001", "value": 6}, "value": 3}}}
        },
        "layer": [
          {"data": {"name": "fit"}, "mark": {"type": "line", "color": "#333", "strokeWidth": 1.2, "interpolate": "monotone"}},
          {"data": {"name": "pts"}, "mark": {"type": "circle", "color": "#000", "size": 150, "opacity": 1}}
        ]
      }
    ],
    "spacing": 25
  },
  {
    "title": {"text": "c", "offset": -19},
    "width": 578, "height": 175,
    "encoding": {
      "x": {"field": "t", "type": "quantitative", "scale": {"domain": [0, 8], "nice": false},
            "axis": {"title": "Time (s)", "values": [0,0.25,0.5,0.75,1,1.25,1.5,1.75,2,2.25,2.5,2.75,3,3.25,3.5,3.75,4,4.25,4.5,4.75,5,5.25,5.5,5.75,6,6.25,6.5,6.75,7,7.25,7.5,7.75,8], "format": ".1f", "labelExpr": "datum.value % 1 === 0 ? datum.label : ''", "tickSize": {"condition": {"test": "datum.value % 1 === 0", "value": 6}, "value": 3}}},
      "y": {"field": "lo", "type": "quantitative", "scale": {"domain": [-1, 7], "nice": false, "zero": false},
            "axis": {"title": "Current (pA)", "values": [-1,-0.5,0,0.5,1,1.5,2,2.5,3,3.5,4,4.5,5,5.5,6,6.5,7], "format": ".1f", "labelExpr": "datum.value % 2 === 0 ? datum.label : ''", "tickSize": {"condition": {"test": "datum.value % 2 === 0", "value": 6}, "value": 3}}},
      "y2": {"field": "hi"}
    },
    "layer": [
      {"data": {"name": "cband"}, "mark": {"type": "area", "color": "#000", "opacity": 1, "clip": true}},
      {"data": {"name": "cspike"}, "mark": {"type": "rule", "color": "#000", "strokeWidth": 1, "clip": true}}
    ]
  },
  {
    "title": {"text": "d", "offset": -19},
    "width": 578, "height": 175,
    "data": {"name": "dband"},
    "mark": {"type": "area", "color": "#000", "opacity": 1, "clip": true},
    "encoding": {
      "x": {"field": "t", "type": "quantitative", "scale": {"domain": [0, 8], "nice": false},
            "axis": {"title": "Time (s)", "values": [0,0.25,0.5,0.75,1,1.25,1.5,1.75,2,2.25,2.5,2.75,3,3.25,3.5,3.75,4,4.25,4.5,4.75,5,5.25,5.5,5.75,6,6.25,6.5,6.75,7,7.25,7.5,7.75,8], "format": ".1f", "labelExpr": "datum.value % 1 === 0 ? datum.label : ''", "tickSize": {"condition": {"test": "datum.value % 1 === 0", "value": 6}, "value": 3}}},
      "y": {"field": "lo", "type": "quantitative", "scale": {"domain": [-1, 7], "nice": false, "zero": false},
            "axis": {"title": "Current (pA)", "values": [-1,-0.5,0,0.5,1,1.5,2,2.5,3,3.5,4,4.5,5,5.5,6,6.5,7], "format": ".1f", "labelExpr": "datum.value % 2 === 0 ? datum.label : ''", "tickSize": {"condition": {"test": "datum.value % 2 === 0", "value": 6}, "value": 3}}},
      "y2": {"field": "hi"}
    }
  }
],
"spacing": 37
}
